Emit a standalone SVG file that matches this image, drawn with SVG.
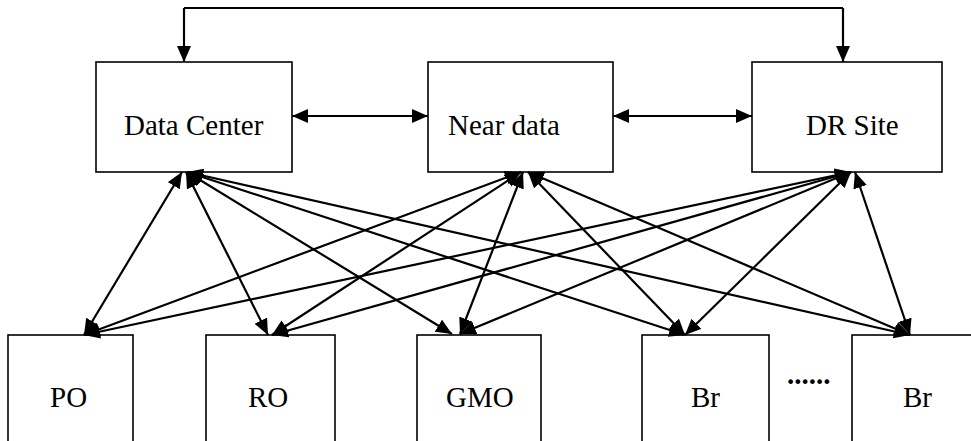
<svg xmlns="http://www.w3.org/2000/svg" width="971" height="441" viewBox="0 0 971 441">
<style>
.box{fill:#fff;stroke:#000;stroke-width:1.6}
.lbl{font-family:"Liberation Serif","Times New Roman",serif;font-size:29px;fill:#000}
.c{fill:none;stroke:#000;stroke-width:2.2}
.d{marker-start:url(#ah);marker-end:url(#ah)}
</style>
<defs>
<marker id="ah" markerUnits="userSpaceOnUse" markerWidth="18" markerHeight="16" refX="16" refY="7" orient="auto-start-reverse" viewBox="0 0 18 16">
<path d="M0,0 L16,7 L0,14 z" fill="#000"/>
</marker>
</defs>
<rect width="971" height="441" fill="#fff"/>
<g id="dc"><rect class="box" x="96" y="62" width="196" height="110"/><text class="lbl" x="124" y="135">Data Center</text></g>
<g id="nd"><rect class="box" x="428" y="62" width="185" height="110"/><text class="lbl" x="448" y="135">Near data</text></g>
<g id="dr"><rect class="box" x="752" y="62" width="190" height="110"/><text class="lbl" x="806" y="135">DR Site</text></g>
<g id="po"><rect class="box" x="8" y="335" width="125" height="130"/><text class="lbl" x="50" y="407">PO</text></g>
<g id="ro"><rect class="box" x="206" y="335" width="129" height="130"/><text class="lbl" x="248" y="407">RO</text></g>
<g id="gmo"><rect class="box" x="417" y="335" width="124" height="130"/><text class="lbl" x="446" y="407">GMO</text></g>
<g id="br1"><rect class="box" x="642" y="335" width="127" height="130"/><text class="lbl" x="691" y="407">Br</text></g>
<g id="br2"><rect class="box" x="852" y="335" width="140" height="130"/><text class="lbl" x="903" y="407">Br</text></g>
<g id="dots"><text class="lbl" x="787" y="384" font-weight="bold">......</text></g>
<g id="connectors">
<path class="c" d="M184,8 H843" />
<path class="c" d="M184,8 V62" marker-end="url(#ah)"/>
<path class="c" d="M843,8 V62" marker-end="url(#ah)"/>
<path class="c d" d="M292,116 H428"/>
<path class="c d" d="M613,116 H752"/>
<path class="c d" d="M182,172 L84,335"/>
<path class="c d" d="M186,172 L268,335"/>
<path class="c d" d="M187,172 L452,334"/>
<path class="c d" d="M187,172 L685,335"/>
<path class="c d" d="M187,172 L910,335"/>
<path class="c d" d="M521,172 L84,335"/>
<path class="c d" d="M521,172 L272,335"/>
<path class="c d" d="M523,172 L460,334"/>
<path class="c d" d="M528,172 L685,335"/>
<path class="c d" d="M528,172 L910,335"/>
<path class="c d" d="M851,172 L84,335"/>
<path class="c d" d="M851,172 L272,335"/>
<path class="c d" d="M851,172 L460,334"/>
<path class="c d" d="M851,172 L685,335"/>
<path class="c d" d="M855,172 L910,335"/>
</g>
</svg>
